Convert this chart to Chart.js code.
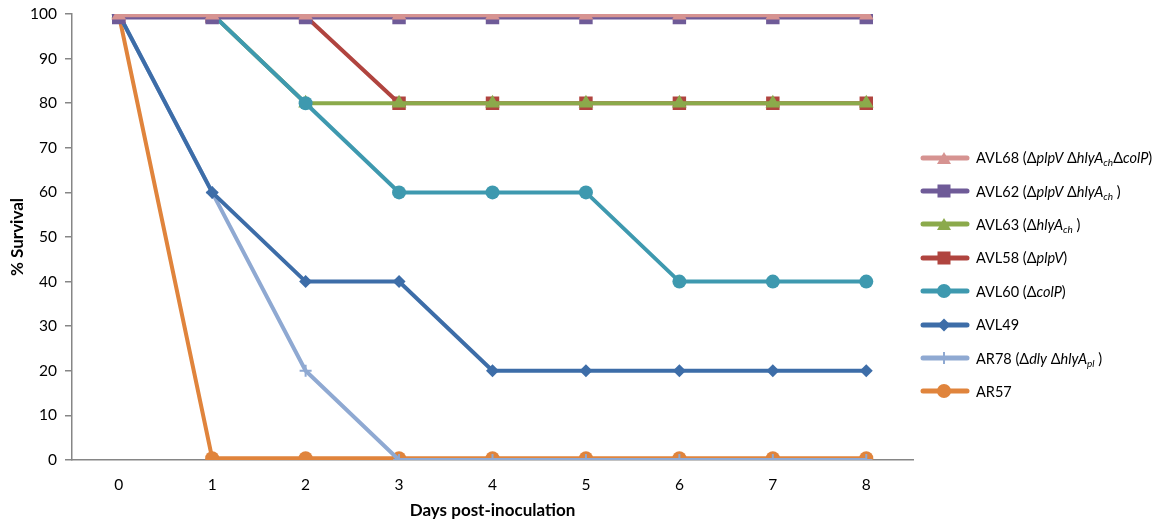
<!DOCTYPE html>
<html>
<head>
<meta charset="utf-8">
<script src="https://cdn.jsdelivr.net/npm/chart.js@4.4.1/dist/chart.umd.min.js"></script>
<style>
  body { margin: 0; background: #fff; }
  #wrap { position: relative; width: 1157px; height: 523px; }
  #legend { position: absolute; left: 920px; top: 141px; font-family: Lato, "Open Sans", sans-serif; font-size: 14.5px; color: #000; }
  .row { height: 33.4px; display: flex; align-items: center; white-space: nowrap; }
  .row svg { margin-right: 6px; flex: none; }
  sub { font-size: 10px; vertical-align: -3px; line-height: 0; }
</style>
</head>
<body>
<div id="wrap">
  <canvas id="survivalChart" width="1157" height="523"></canvas>
  <div id="legend"></div>
</div>
<script>
// Days post-inoculation
const days = ["0", "1", "2", "3", "4", "5", "6", "7", "8"];
const yTicks = [0, 10, 20, 30, 40, 50, 60, 70, 80, 90, 100];

// % survival per strain
const avl68 = [99.7, 99.7, 99.7, 99.7, 99.7, 99.7, 99.7, 99.7, 99.7];
const avl62 = [99.2, 99.2, 99.2, 99.2, 99.2, 99.2, 99.2, 99.2, 99.2];
const avl63 = [100, 100, 80, 80, 80, 80, 80, 80, 80];
const avl58 = [99.5, 99.5, 99.5, 80, 80, 80, 80, 80, 80];
const avl60 = [100, 100, 80, 60, 60, 60, 40, 40, 40];
const avl49 = [100, 60, 40, 40, 20, 20, 20, 20, 20];
const ar78 = [100, 60, 20, 0, 0, 0, 0, 0, 0];
const ar57 = [100, 0.4, 0.4, 0.4, 0.4, 0.4, 0.4, 0.4, 0.4];

const seriesLabels = [
    "AVL68 (Δ<i>plpV</i> Δ<i>hlyA<sub>ch</sub></i>Δ<i>colP</i>)",
    "AVL62 (Δ<i>plpV</i> Δ<i>hlyA<sub>ch</sub></i> )",
    "AVL63 (Δ<i>hlyA<sub>ch</sub></i> )",
    "AVL58 (Δ<i>plpV</i>)",
    "AVL60 (Δ<i>colP</i>)",
    "AVL49",
    "AR78 (Δ<i>dly</i> Δ<i>hlyA<sub>pl</sub></i> )",
    "AR57",
];
const seriesData = [avl68, avl62, avl63, avl58, avl60, avl49, ar78, ar57];

// styles
const colors = ["#D69391", "#6F5B98", "#8BAA4B", "#B0443F", "#3E99AF", "#3D6DA8", "#8FA9D2", "#E0843C"];
const shapes = ["triangle", "rect", "triangle", "rect", "circle", "rectRot", "cross", "circle"];
const radii = [8.5, 9.5, 8.5, 9.5, 7, 6.5, 6, 7];
const drawOrder = [1, 2, 4, 5, 3, 6, 7, 8]; // lower = on top

const datasets = seriesData.map((d, i) => ({
    label: seriesLabels[i],
    data: d,
    borderColor: colors[i],
    backgroundColor: colors[i],
    borderWidth: 4,
    pointStyle: shapes[i],
    pointRadius: radii[i],
    pointHoverRadius: radii[i],
    pointBorderWidth: shapes[i] === "cross" ? 2 : 0,
    pointBorderColor: colors[i],
    order: drawOrder[i],
    tension: 0,
}));

const ctx = document.getElementById("survivalChart").getContext("2d");
new Chart(ctx, {
    type: "line",
    data: { labels: days, datasets: datasets },
    options: {
        responsive: false,
        animation: false,
        layout: { padding: { left: 0, right: 244, top: 14, bottom: 0 } },
        plugins: { legend: { display: false }, tooltip: { enabled: false } },
        scales: {
            x: {
                offset: true,
                afterFit: (s) => { s.height = 63; s.paddingLeft = 0; s.paddingRight = 0; },
                grid: { display: false, drawTicks: false },
                border: { display: true, color: "#868686", width: 1.5 },
                ticks: { padding: 16, color: "#000", font: { family: "Lato", size: 15.5 } },
                title: {
                    display: true, text: "Days post-inoculation", color: "#000",
                    font: { family: "Lato", size: 17, weight: "bold" },
                    padding: { top: 10, bottom: 2 },
                },
            },
            y: {
                min: 0, max: 100,
                afterBuildTicks: (s) => { s.ticks = yTicks.map(v => ({ value: v })); },
                afterFit: (s) => { s.width = 72; s.paddingTop = 0; s.paddingBottom = 0; },
                grid: { drawOnChartArea: false, drawTicks: true, tickLength: 7, color: "#868686", lineWidth: 1.5 },
                border: { display: true, color: "#868686", width: 1.5 },
                ticks: { padding: 8, color: "#000", font: { family: "Lato", size: 15.5 } },
                title: {
                    display: true, text: "% Survival", color: "#000",
                    font: { family: "Lato", size: 17, weight: "bold" },
                    padding: { top: 7, bottom: 0 },
                },
            },
        },
    },
});

// Legend with italic gene names
function markerSvg(i) {
    const c = colors[i];
    let m = "";
    if (shapes[i] === "triangle") m = `<polygon points="24,4 31,16 17,16" fill="${c}"/>`;
    else if (shapes[i] === "rect") m = `<rect x="17.5" y="3.5" width="13" height="13" fill="${c}"/>`;
    else if (shapes[i] === "circle") m = `<circle cx="24" cy="10" r="7" fill="${c}"/>`;
    else if (shapes[i] === "rectRot") m = `<polygon points="24,3.5 30.5,10 24,16.5 17.5,10" fill="${c}"/>`;
    else if (shapes[i] === "cross") m = `<path d="M24 4 V16 M18 10 H30" stroke="${c}" stroke-width="2"/>`;
    return `<svg width="50" height="20"><line x1="3" y1="10" x2="47" y2="10" stroke="${c}" stroke-width="5" stroke-linecap="round"/>${m}</svg>`;
}
const legend = document.getElementById("legend");
seriesLabels.forEach((lab, i) => {
    const row = document.createElement("div");
    row.className = "row";
    row.innerHTML = markerSvg(i) + `<span>${lab}</span>`;
    legend.appendChild(row);
});
</script>
</body>
</html>
